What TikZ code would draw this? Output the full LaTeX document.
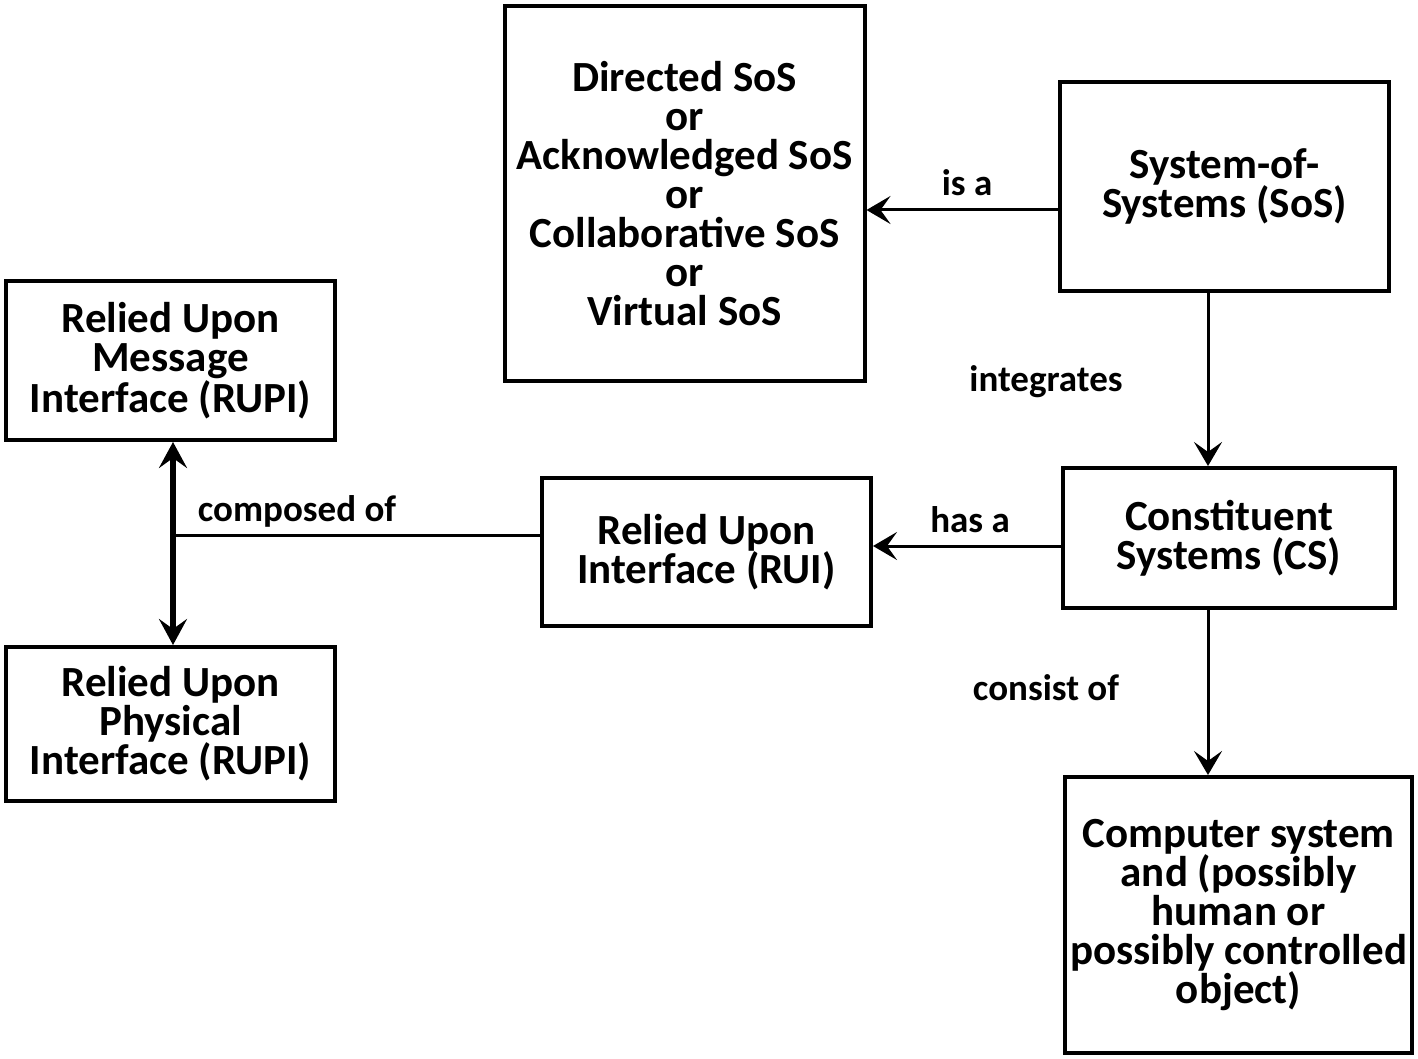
\documentclass[tikz,border=0pt]{standalone}
\usepackage{fontspec}
\setmainfont{Carlito}
\usetikzlibrary{arrows.meta}
\begin{document}
\begin{tikzpicture}[x=0.5pt,y=-0.5pt,
  box/.style={draw, line width=2pt, inner sep=0pt, align=center,
    font=\fontsize{21.5}{19.5}\selectfont\bfseries},
  lbl/.style={font=\fontsize{18.5}{20}\selectfont\bfseries, inner sep=0pt},
  arr/.style={line width=1.5pt, -{Stealth[length=12pt,width=14pt,inset=5pt]}},
  darr/.style={line width=3.2pt, {Stealth[length=13pt,width=14pt,inset=5pt]}-{Stealth[length=13pt,width=14pt,inset=5pt]}},
  plain/.style={line width=1.5pt}]
\useasboundingbox[fill=white] (0,0) rectangle (1418,1059);

\node[box, minimum width=180pt, minimum height=187.5pt] (dir) at (684.5,193.5)
  {Directed SoS\\or\\Acknowledged SoS\\or\\Collaborative SoS\\or\\Virtual SoS};
\node[box, minimum width=164.5pt, minimum height=104.5pt] (sos) at (1224.5,186.5)
  {System-of-\\Systems (SoS)};
\node[box, minimum width=166pt, minimum height=70pt] (cs) at (1229,538)
  {Constituent\\Systems (CS)};
\node[box, minimum width=173.5pt, minimum height=138pt] (comp) at (1238.5,915)
  {Computer system\\and (possibly\\human or\\possibly controlled\\object)};
\node[box, minimum width=164.5pt, minimum height=74pt] (rui) at (706.5,552)
  {Relied Upon\\Interface (RUI)};
\node[box, minimum width=164.5pt, minimum height=79.5pt] (rupim) at (170.5,360.5)
  {Relied Upon\\Message\\Interface (RUPI)};
\node[box, minimum width=164.5pt, minimum height=77pt] (rupip) at (170.5,724)
  {Relied Upon\\Physical\\Interface (RUPI)};

\coordinate (isaY) at (0,210);
\coordinate (hasY) at (0,546);
\coordinate (vX) at (1208,0);
\coordinate (compY) at (0,535);
\coordinate (jX) at (173,0);
\coordinate (junc) at (173,535);

\draw[arr] (sos.west |- isaY) -- (dir.east |- isaY);
\draw[arr] (sos.south -| vX) -- (cs.north -| vX);
\draw[arr] (cs.west |- hasY) -- (rui.east |- hasY);
\draw[arr] (cs.south -| vX) -- (comp.north -| vX);
\draw[plain] (rui.west |- compY) -- (junc);
\draw[darr] (rupim.south -| jX) -- (rupip.north -| jX);

\node[lbl] (lisa) at (967,183) {is a};
\node[lbl] (lint) at (1046,382) {integrates};
\node[lbl] (lhas) at (970,520) {has a};
\node[lbl] (lcon) at (1046,688) {consist of};
\node[lbl] (lcmp) at (297,511) {composed of};
\end{tikzpicture}
\end{document}
